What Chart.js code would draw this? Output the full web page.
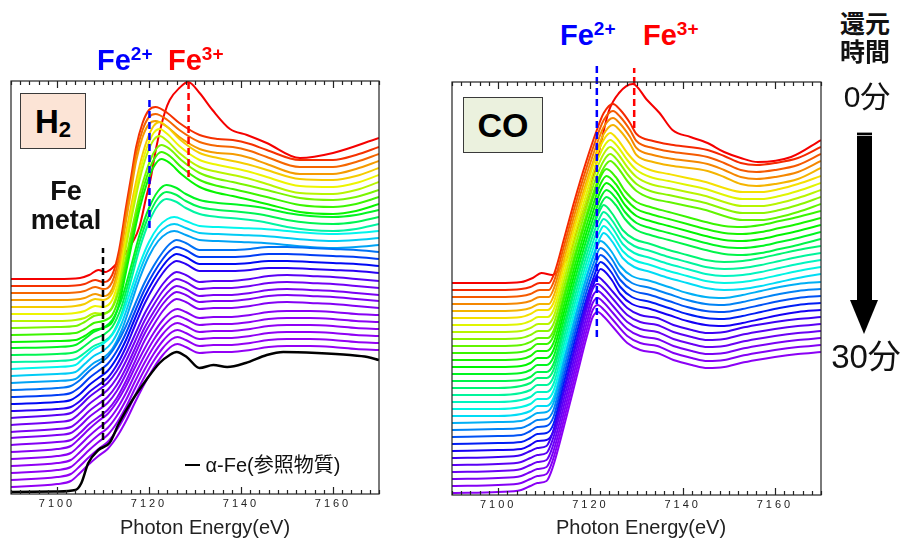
<!DOCTYPE html>
<html>
<head>
<meta charset="utf-8">
<script src="https://cdn.jsdelivr.net/npm/chart.js@4.4.0/dist/chart.umd.min.js"></script>
<style>
body { margin: 0; width: 910px; height: 541px; position: relative; background: #fff; overflow: hidden;
       font-family: "Liberation Sans", Arial, "Noto Sans CJK JP", sans-serif; color: #111; }
canvas { position: absolute; }
.t { position: absolute; white-space: nowrap; line-height: 1; }
.b { font-weight: bold; }
.sup { font-size: 19px; position: relative; top: -10px; }
.c { transform: translateX(-50%); }
.box { position: absolute; box-sizing: border-box; border: 1.5px solid #3a3a3a; display: flex;
       align-items: center; justify-content: center; font-weight: bold; line-height: 1; color: #000; }
.jp { font-family: "Noto Sans CJK JP", sans-serif; }
</style>
</head>
<body>
<canvas id="h2Chart" width="400" height="481" style="left:0;top:60px"></canvas>
<canvas id="coChart" width="400" height="481" style="left:440px;top:60px"></canvas>

<!-- labels over the charts -->
<div class="t b" style="left:97px;top:46px;font-size:29px;color:#0000ff">Fe<span class="sup">2+</span></div>
<div class="t b" style="left:168px;top:46px;font-size:29px;color:#ff0000">Fe<span class="sup">3+</span></div>
<div class="t b" style="left:560px;top:21px;font-size:29px;color:#0000ff">Fe<span class="sup">2+</span></div>
<div class="t b" style="left:643px;top:21px;font-size:29px;color:#ff0000">Fe<span class="sup">3+</span></div>

<div class="box" style="left:20px;top:93px;width:66px;height:56px;background:#fce4d6">
  <span style="font-size:33px">H</span><span style="font-size:22px;position:relative;top:9px">2</span>
</div>
<div class="box" style="left:463px;top:97px;width:80px;height:56px;background:#ebf1de">
  <span style="font-size:34px">CO</span>
</div>

<div class="t b c" style="left:66px;top:178px;font-size:27px">Fe</div>
<div class="t b c" style="left:66px;top:207px;font-size:27px">metal</div>

<div class="t" style="left:185px;top:454px;font-size:20px;line-height:20px">
  <span style="display:inline-block;width:15px;height:2px;background:#000;vertical-align:6px"></span> α-Fe(<span class="jp">参照物質</span>)
</div>

<div class="t c" style="left:205px;top:517px;font-size:20px;color:#222">Photon Energy(eV)</div>
<div class="t c" style="left:641px;top:517px;font-size:20px;color:#222">Photon Energy(eV)</div>

<div class="t b c jp" style="left:865px;top:10px;font-size:25px">還元</div>
<div class="t b c jp" style="left:865px;top:38px;font-size:25px">時間</div>
<div class="t c" style="left:867px;top:79px;font-size:30px">0<span class="jp">分</span></div>
<div style="position:absolute;left:857px;top:132px;width:15px;height:170px;
            background:linear-gradient(#999 0,#999 1px,#000 1px,#000 3px,#bbb 3px,#bbb 4px,#000 4px)"></div>
<div style="position:absolute;left:850px;top:300px;width:0;height:0;border-left:14px solid transparent;
            border-right:14px solid transparent;border-top:34px solid #000"></div>
<div class="t c" style="left:866px;top:338px;font-size:33px">30<span class="jp">分</span></div>

<script>
// x axis range and labelled ticks
const energyMin = 7090;
const energyMax = 7170;
const tickLabels = [7100, 7120, 7140, 7160];

// ---------- H2 panel ----------
// vertical offset of each spectrum (0 min at top ... 30 min at bottom)
const h2Offsets = [215, 208, 201, 194, 187, 180, 173, 166, 159, 152, 146, 139, 132, 125, 118, 111,
                   104, 97, 90, 83, 76, 69, 62, 56, 49, 42, 35, 28, 21, 14, 7];
// which measured shape each spectrum follows
const h2ShapeOf = [0, 1, 1, 1, 2, 2, 2, 3, 3, 3, 4, 4, 4, 5, 5, 5, 6, 6, 6, 6, 7, 7, 7, 7, 7, 8, 8, 8, 8, 8, 8];

// shapes: [energy, height above pre-edge]
const h2Shape0 = [[7090, 0], [7100, 0], [7105, 1], [7107, 4], [7109, 9], [7110.5, 7], [7112, 11], [7114.6, 24],
  [7117.9, 52], [7119.4, 82], [7120.3, 99], [7121.6, 132], [7123.4, 166], [7124.5, 179], [7126.6, 191],
  [7128.5, 197], [7131, 186], [7133.8, 169], [7137.6, 150], [7141.3, 144], [7145.6, 136], [7152.8, 121],
  [7160, 126], [7170, 141]];
const h2Shape1 = [[7090, 0], [7100, 0], [7104, 0.5], [7106, 2], [7108.3, 6], [7110, 4], [7112, 11], [7113.5, 36],
  [7115, 79], [7116, 106], [7117.2, 139], [7118.6, 163], [7120, 176], [7121.4, 179], [7124, 173], [7126.6, 163],
  [7131, 151], [7135, 147], [7138.2, 146], [7142, 142], [7145.6, 136], [7152.8, 126], [7160, 126], [7165, 131],
  [7170, 139]];
const h2Shape2 = [[7090, 0], [7100, 0], [7104, 1], [7106, 3], [7108.3, 8], [7110, 7], [7112, 14], [7113.5, 36],
  [7115, 74], [7116.5, 110], [7118, 142], [7119.5, 166], [7121, 181], [7122.3, 185], [7124, 180], [7126.6, 168],
  [7131, 154], [7135, 149], [7138.2, 146], [7142, 142], [7145.6, 137], [7152.8, 128], [7160, 127], [7165, 131],
  [7170, 139]];
const h2Shape3 = [[7090, 0], [7100, 1], [7104, 2], [7106, 6], [7108, 12], [7110, 14], [7112, 20], [7113.5, 38],
  [7115, 70], [7116.5, 103], [7118, 134], [7119.5, 158], [7121, 175], [7122.7, 183], [7124.5, 179], [7127, 168],
  [7131, 155], [7135, 149], [7138.2, 146], [7142, 142], [7145.6, 138], [7152.8, 130], [7160, 128], [7165, 131],
  [7170, 138]];
const h2Shape4 = [[7090, 0], [7100, 1], [7104, 3], [7106, 9], [7108, 16], [7110, 20], [7112, 28], [7114, 48],
  [7116, 80], [7118, 114], [7120, 140], [7122, 157], [7123.8, 163], [7126, 160], [7128, 154], [7131, 148],
  [7135, 145], [7140, 143], [7145, 140], [7150, 135], [7155, 132], [7160, 131], [7165, 133], [7170, 138]];
const h2Shape5 = [[7090, 0], [7100, 2], [7104, 4], [7106, 12], [7108, 20], [7110, 25], [7112, 34], [7114, 52],
  [7116, 78], [7118, 105], [7120, 127], [7122, 142], [7124, 150], [7125.5, 152], [7128, 148], [7131, 143],
  [7135, 142], [7140, 141], [7145, 140], [7150, 138], [7155, 136], [7160, 135], [7165, 136], [7170, 138]];
const h2Shape6 = [[7090, 0], [7100, 2], [7103, 4], [7105, 10], [7107, 19], [7109, 26], [7111, 33], [7113, 46],
  [7115, 64], [7117, 86], [7119, 107], [7121, 124], [7123, 138], [7124.5, 146], [7126, 150], [7128, 147],
  [7131, 140], [7134, 140], [7138, 140], [7142, 141], [7146, 143], [7150, 143], [7155, 142], [7160, 141],
  [7165, 140], [7170, 138]];
const h2Shape7 = [[7090, 0], [7100, 3], [7103, 5], [7105, 12], [7107, 21], [7109, 28], [7111, 35], [7113, 47],
  [7115, 64], [7117, 84], [7119, 104], [7121, 120], [7123, 134], [7124.8, 143], [7126, 146], [7128, 143],
  [7131, 136], [7134, 137], [7138, 137], [7142, 139], [7146, 142], [7150, 143], [7155, 142], [7160, 141],
  [7165, 139], [7170, 137]];
const h2Shape8 = [[7090, 0], [7100, 3], [7103, 6], [7105, 14], [7107, 23], [7109, 31], [7111, 38], [7113, 50],
  [7115, 66], [7117, 85], [7119, 103], [7121, 119], [7123, 132], [7125, 141], [7126.2, 143], [7128, 140],
  [7131, 134], [7134, 135], [7138, 135], [7142, 137], [7146, 140], [7150, 141], [7155, 141], [7160, 140],
  [7165, 138], [7170, 137]];
const h2Shapes = [h2Shape0, h2Shape1, h2Shape2, h2Shape3, h2Shape4, h2Shape5, h2Shape6, h2Shape7, h2Shape8];

// alpha-Fe reference spectrum (absolute height)
const alphaFe = [[7090, 2], [7100, 2.5], [7104, 4], [7105.3, 11], [7106.8, 31], [7109, 44], [7111.4, 51],
  [7113.5, 71], [7116.4, 94], [7119.4, 114], [7122.3, 131], [7124.5, 139], [7126, 142], [7128.2, 137],
  [7131, 126], [7134, 129], [7137, 127], [7141, 131], [7145.6, 139], [7149.2, 142], [7156.5, 141],
  [7163.7, 139], [7167.5, 137], [7170, 134]];

// dashed marker lines: [energy, height]
const h2MetalLine = [[7110, 54], [7110, 246]];
const h2Fe2Line = [[7120.1, 266], [7120.1, 396]];
const h2Fe3Line = [[7128.6, 317], [7128.6, 413]];

// ---------- CO panel ----------
const coOffsets = [212, 205, 198, 191, 184, 177, 170, 163, 156, 149, 142, 135, 128, 121, 114, 107,
                   100, 93, 86, 79, 72, 65, 58, 51, 44, 37, 30, 23, 16, 9, 2];
const coShapeOf = [0, 1, 1, 1, 1, 2, 2, 2, 2, 2, 3, 3, 3, 3, 3, 4, 4, 4, 4, 4, 5, 5, 5, 5, 5, 6, 6, 6, 6, 6, 6];

const coShape0 = [[7090, 0], [7100, 0], [7105, 1], [7107.5, 5], [7109.4, 10], [7111.8, 8], [7113.5, 15],
  [7115.5, 30], [7117.5, 58], [7119.9, 93], [7122.1, 136], [7124, 172], [7126.2, 190], [7129.2, 199],
  [7132.3, 183], [7135, 170], [7137.8, 153], [7141.7, 146], [7145.4, 140], [7149, 131], [7152.6, 125],
  [7156.3, 121], [7163.5, 126], [7170, 143]];
const coShape1 = [[7090, 0], [7100, 0], [7105, 1], [7107, 3], [7109, 7], [7111, 7], [7112.2, 17], [7114.4, 53],
  [7116.6, 90], [7119, 127], [7121.4, 160], [7122.9, 177], [7124.9, 186], [7126.5, 180], [7128.6, 167],
  [7130, 156], [7133.6, 149], [7138, 145], [7145.4, 140], [7149, 134], [7152.6, 127], [7156, 125],
  [7160, 127], [7165, 132], [7170, 143]];
const coShape2 = [[7090, 0], [7100, 0], [7105, 1], [7107, 4], [7108.7, 8], [7110.7, 8], [7112, 15], [7114.3, 52],
  [7116.6, 91], [7119, 129], [7121.3, 162], [7123, 179], [7124.3, 185], [7126, 178], [7128, 165], [7130, 155],
  [7133, 148], [7137, 144], [7141, 140], [7145, 136], [7149, 130], [7153, 126], [7157, 126], [7161, 129],
  [7165, 134], [7170, 142]];
const coShape3 = [[7090, 0], [7100, 0], [7105, 1], [7107, 4], [7108.5, 9], [7110.5, 9], [7112, 17], [7114.3, 55],
  [7116.6, 94], [7119, 132], [7121, 161], [7122.3, 177], [7123.5, 184], [7125.5, 176], [7127.5, 162],
  [7130, 151], [7133, 146], [7137, 141], [7141, 136], [7145, 131], [7149, 127], [7153, 126], [7157, 128],
  [7161, 132], [7165, 136], [7170, 142]];
const coShape4 = [[7090, 0], [7100, 0], [7105, 2], [7107, 5], [7108.5, 10], [7110.5, 10], [7112, 18], [7114.3, 58],
  [7116.6, 98], [7119, 137], [7120.8, 163], [7122, 177], [7122.9, 183], [7124.8, 174], [7127, 158],
  [7129.5, 149], [7133, 144], [7137, 138], [7141, 133], [7145, 128], [7149, 126], [7153, 127], [7157, 130],
  [7161, 134], [7165, 138], [7170, 142]];
const coShape5 = [[7090, 0], [7100, 1], [7105, 2], [7107, 6], [7108.5, 10], [7110.5, 11], [7112, 20], [7114.3, 62],
  [7116.6, 103], [7119, 143], [7120.8, 168], [7122.2, 182], [7124.5, 172], [7126.5, 157], [7129, 147],
  [7133, 142], [7137, 136], [7141, 130], [7145, 126], [7149, 125], [7153, 128], [7157, 132], [7161, 136],
  [7165, 139], [7170, 141]];
const coShape6 = [[7090, 0], [7100, 1], [7105, 3], [7107, 7], [7108.5, 10], [7110.5, 12], [7111.8, 25],
  [7114.8, 76], [7117, 116], [7119.2, 156], [7120.5, 176], [7121.6, 181], [7123, 176], [7124.9, 166],
  [7128, 150], [7130.8, 143], [7134.5, 140], [7138, 133], [7142, 128], [7145.4, 125], [7149, 126],
  [7152.6, 130], [7156, 133], [7160, 136], [7165, 139], [7170, 141]];
const coShapes = [coShape0, coShape1, coShape2, coShape3, coShape4, coShape5, coShape6];

const coFe2Line = [[7121.4, 158], [7121.4, 430]];
const coFe3Line = [[7129.5, 367], [7129.5, 427]];

// rainbow colours, top (red) to bottom (violet)
const h2Hues = [0, 12, 25, 38, 50, 62, 75, 90, 105, 118, 128, 140, 160, 178, 190, 200, 212, 225, 238, 250,
                262, 268, 270, 271, 272, 273, 274, 275, 275, 276, 276];
const coHues = [0, 10, 22, 33, 44, 55, 65, 75, 86, 96, 106, 114, 120, 128, 138, 148, 158, 167, 176, 186,
                197, 208, 220, 233, 245, 255, 262, 266, 270, 272, 274];

Chart.defaults.font.family = "'Liberation Sans', Arial, sans-serif";

function toPoints(pairs, shift) {
    return pairs.map(p => ({ x: p[0], y: p[1] + shift }));
}

function dashed(pairs, color) {
    return {
        data: toPoints(pairs, 0),
        borderColor: color,
        borderWidth: 2.5,
        borderDash: [7, 4],
        tension: 0,
        clip: false
    };
}

// spectra: first one in the list is drawn last, so red ends up underneath
function spectra(shapes, shapeOf, offsets, hues) {
    let sets = [];
    for (let i = offsets.length - 1; i >= 0; i--) {
        sets.push({
            data: toPoints(shapes[shapeOf[i]], offsets[i]),
            borderColor: 'hsl(' + hues[i] + ',100%,48%)',
            borderWidth: 2,
            cubicInterpolationMode: 'monotone'
        });
    }
    return sets;
}

// box round the plot and inward tick marks on top and bottom
const frameTicks = {
    id: 'frameTicks',
    beforeDraw(chart) {
        chart.ctx.letterSpacing = '3px';
    },
    afterDatasetsDraw(chart) {
        const { ctx, chartArea: a, scales: { x } } = chart;
        ctx.save();
        ctx.strokeStyle = '#222';
        ctx.lineWidth = 1.2;
        ctx.strokeRect(a.left, a.top, a.width, a.height);
        ctx.beginPath();
        for (const t of x.ticks) {
            const px = Math.round(x.getPixelForValue(t.value)) + 0.5;
            const len = tickLabels.includes(t.value) ? 7 : 4;
            ctx.moveTo(px, a.top);
            ctx.lineTo(px, a.top + len);
            ctx.moveTo(px, a.bottom);
            ctx.lineTo(px, a.bottom - len);
        }
        ctx.stroke();
        ctx.restore();
    },
    afterDraw(chart) {
        chart.ctx.letterSpacing = '0px';
    }
};

function makeChart(id, datasets, padding) {
    return new Chart(id, {
        type: 'line',
        data: { datasets: datasets },
        options: {
            responsive: false,
            animation: false,
            layout: { padding: padding },
            elements: { point: { radius: 0 } },
            plugins: { legend: { display: false }, tooltip: { enabled: false } },
            scales: {
                x: {
                    type: 'linear',
                    min: energyMin,
                    max: energyMax,
                    grid: { display: false, drawTicks: false },
                    border: { display: false },
                    ticks: {
                        stepSize: 2,
                        autoSkip: false,
                        maxRotation: 0,
                        padding: 3,
                        color: '#222',
                        font: { size: 11 },
                        callback: v => tickLabels.includes(v) ? String(v) : ''
                    },
                    afterFit: s => { s.height = 20; }
                },
                y: { display: false, min: 0, max: 413 }
            }
        },
        plugins: [frameTicks]
    });
}

makeChart('h2Chart', [
    dashed(h2MetalLine, '#000'),
    dashed(h2Fe2Line, '#0000ff'),
    dashed(h2Fe3Line, '#ff0000'),
    { data: toPoints(alphaFe, 0), borderColor: '#000', borderWidth: 2.5, cubicInterpolationMode: 'monotone' }
].concat(spectra(h2Shapes, h2ShapeOf, h2Offsets, h2Hues)),
    { left: 11, right: 21, top: 21, bottom: 27 });

makeChart('coChart', [
    dashed(coFe2Line, '#0000ff'),
    dashed(coFe3Line, '#ff0000')
].concat(spectra(coShapes, coShapeOf, coOffsets, coHues)),
    { left: 12, right: 19, top: 22, bottom: 26 });
</script>
</body>
</html>
